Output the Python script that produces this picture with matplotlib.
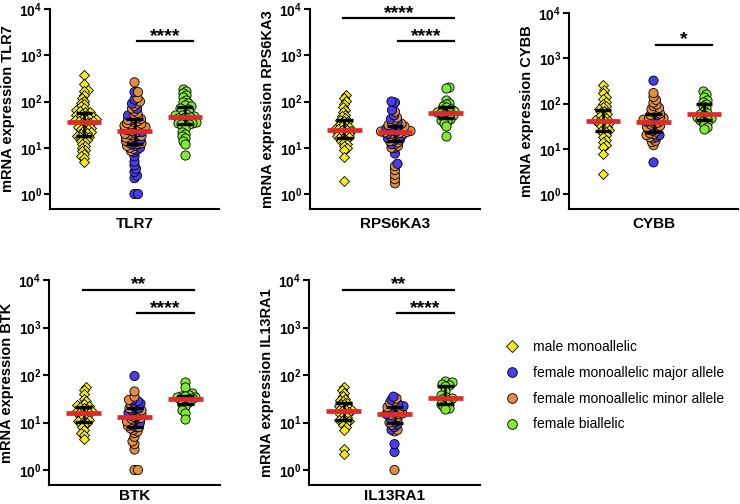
import numpy as np
import matplotlib
matplotlib.use("Agg")
import matplotlib.pyplot as plt
from matplotlib.lines import Line2D
from matplotlib.ticker import FixedLocator, FuncFormatter, NullLocator

plt.rcParams['font.family'] = ['Liberation Sans', 'DejaVu Sans']
plt.rcParams['mathtext.fontset'] = 'custom'
plt.rcParams['mathtext.rm'] = 'Liberation Sans:bold'
plt.rcParams['mathtext.bf'] = 'Liberation Sans:bold'

# ---- data (mRNA expression, log scale) ----
genes = ["TLR7", "RPS6KA3", "CYBB", "BTK", "IL13RA1"]
group_names = ["male monoallelic", "female monoallelic major allele",
               "female monoallelic minor allele", "female biallelic"]

tlr7_male = [380, 240, 175, 165, 140, 120, 105, 95, 88, 80, 72, 66, 62, 60, 58, 55, 52, 50, 48, 46,
             45, 44, 42, 41, 40, 39, 38, 37, 36, 35, 34, 32, 30, 28, 27, 26, 25, 24, 22, 21, 20, 19,
             18, 17.5, 17, 16, 15, 14, 13, 12, 11, 10, 9, 8.5, 7.5, 6.5, 6, 5]
tlr7_major = [160, 110, 90, 70, 50, 40, 30, 22, 18, 15, 13, 12, 11, 10, 9, 8, 6.5, 5, 4.2, 3.5,
              3, 2.5, 2.2, 1.0, 1.0]
tlr7_minor = [260, 160, 120, 100, 90, 80, 70, 62, 56, 52, 48, 45, 44, 42, 40, 38, 36, 34, 33, 32,
              31, 30, 29, 28, 27, 27, 26, 25, 25, 24, 23, 22, 21, 20, 19.5, 19, 18, 17, 16.5, 16,
              15, 14.5, 14, 13, 12.5, 12, 11, 10, 9.5, 8.5]
tlr7_bi = [190, 170, 150, 140, 125, 110, 100, 92, 85, 78, 74, 70, 66, 62, 58, 55, 52, 50, 48, 47,
           46, 44, 42, 40, 38, 36, 35, 34, 32, 31, 33, 25, 22, 20, 18, 16, 14, 12, 7]

rps_male = [135, 120, 105, 90, 75, 65, 58, 52, 48, 44, 40, 38, 36, 34, 32, 30, 29, 28, 27, 26, 25,
            24.5, 24, 23, 22, 21, 20, 19, 18.5, 18, 17, 16.5, 16, 15, 14, 13, 12, 11, 10, 9, 6.3, 1.9]
rps_major = [100, 95, 65, 50, 42, 36, 32, 30, 28, 26, 24, 22, 20, 18, 16, 14, 12, 10, 7.5, 4.5]
rps_minor = [60, 45, 40, 35, 33, 31, 29, 27, 26, 25, 24, 23, 22.5, 22, 21.5, 21, 20.5, 20, 19, 18,
             17, 16, 15, 14, 13, 12, 11, 10, 4.0, 3.3, 2.6, 2.1, 1.7]
rps_bi = [210, 195, 110, 95, 90, 80, 75, 70, 65, 62, 60, 58, 57, 55, 52, 50, 48, 45, 42, 40, 38,
          35, 30, 18]

cybb_male = [250, 200, 170, 140, 125, 110, 100, 90, 82, 75, 70, 65, 60, 56, 52, 49, 46, 44, 42, 41,
             40, 38, 36, 34, 32, 30, 28, 26, 25, 24, 22, 20, 18, 16, 14, 12, 11, 7.5, 2.7]
cybb_major = [320, 55, 40, 30, 25, 20, 18, 5]
cybb_minor = [170, 140, 120, 105, 95, 88, 80, 75, 70, 65, 60, 56, 52, 50, 48, 47, 45, 44, 43, 42,
              40, 38, 36, 34, 32, 30, 28, 26, 24, 22, 21, 20, 18, 17, 15, 14, 12]
cybb_bi = [185, 165, 140, 120, 110, 100, 90, 80, 70, 62, 58, 55, 50, 48, 46, 44, 42, 38, 34, 30, 28]

btk_male = [55, 48, 40, 32, 28, 25, 23, 22, 21, 20, 19, 18, 17.5, 17, 16.5, 16, 15.5, 15, 14, 13,
            12, 11.5, 11, 10.5, 10, 9.5, 9, 8, 7, 6, 5.5, 4.5]
btk_major = [95, 30, 28, 26, 25, 24, 22, 20, 19, 18, 16, 14, 12, 10, 8]
btk_minor = [45, 35, 30, 24, 20, 18, 17, 16, 15, 14, 13, 12.5, 12, 11, 10.5, 10, 9.5, 9, 8.5, 8,
             7.5, 7, 6.5, 6, 5, 4, 3.5, 2.7, 1.0, 1.0]
btk_bi = [72, 55, 42, 38, 37, 36, 35, 34, 33, 32, 31, 30, 28, 26, 24, 22, 18, 16, 12]

il13_male = [55, 48, 42, 36, 32, 30, 28, 26, 25, 24, 22, 21, 20, 19, 18.5, 18, 17.5, 17, 16, 15,
             14, 13, 12, 11.5, 11, 10.5, 10, 9, 8, 7, 2.8, 2.2]
il13_major = [35, 30, 25, 22, 20, 18, 15, 12, 10, 9, 8, 7, 3.5, 2.4]
il13_minor = [32, 28, 26, 24, 22, 21, 20, 19, 18, 17, 16, 15.5, 15, 14.5, 14, 13, 12, 11, 10, 9,
              7, 6.5, 1.0]
il13_bi = [75, 70, 65, 62, 60, 45, 38, 35, 33, 32, 30, 28, 25, 24, 22, 20, 19]

# comparisons: (group a, group b, label)
tlr7_sig = [(1, 2, "****")]
rps_sig = [(1, 2, "****"), (0, 2, "****")]
cybb_sig = [(1, 2, "*")]
btk_sig = [(1, 2, "****"), (0, 2, "**")]
il13_sig = [(1, 2, "****"), (0, 2, "**")]

panels = [
    (tlr7_male, tlr7_major, tlr7_minor, tlr7_bi, tlr7_sig),
    (rps_male, rps_major, rps_minor, rps_bi, rps_sig),
    (cybb_male, cybb_major, cybb_minor, cybb_bi, cybb_sig),
    (btk_male, btk_major, btk_minor, btk_bi, btk_sig),
    (il13_male, il13_major, il13_minor, il13_bi, il13_sig),
]

YELLOW = "#F7EE0F"
BLUE = "#4B3BEF"
ORANGE = "#E08D3F"
GREEN = "#80EA2F"
RED = "#DD2A2A"

W, H = 740, 504
# axes boxes in pixels: left, top, right, bottom
boxes = [(50, 9, 219, 209), (310, 9, 480, 209), (569, 13, 738, 209),
         (49, 280, 220, 485), (309, 280, 480, 485)]


def swarm(ax, xc, values, dist):
    # place points in pixel space as close to the centre as possible
    vals = np.asarray(values, dtype=float)
    ys = ax.transData.transform(np.column_stack([np.full(len(vals), xc), vals]))[:, 1]
    order = np.argsort(ys)
    offs = np.zeros(len(vals))
    placed = []
    for n, i in enumerate(order):
        sgn = 1 if n % 2 else -1
        for k in range(600):
            off = (k + 1) // 2 * 0.5 * (sgn if k % 2 else -sgn)
            if all((off - px) ** 2 + (ys[i] - py) ** 2 >= dist ** 2 for px, py in placed):
                break
        offs[i] = off
        placed.append((off, ys[i]))
    unit = ax.transData.transform((1, 1))[0] - ax.transData.transform((0, 1))[0]
    return xc + offs / unit


def summary(ax, xc, values):
    q1, med, q3 = np.percentile(values, [25, 50, 75])
    ax.plot([xc, xc], [q1, q3], color="k", lw=1.8, zorder=6)
    for q in (q1, q3):
        ax.plot([xc - 0.16, xc + 0.16], [q, q], color="k", lw=2.4, zorder=6, solid_capstyle="butt")
    ax.plot([xc - 0.34, xc + 0.34], [med, med], color=RED, lw=3.4, zorder=7, solid_capstyle="butt")


fig = plt.figure(figsize=(W / 100, H / 100), dpi=100)

for idx, (gene, (male, major, minor, bi, sig), (l, t, r, b)) in enumerate(zip(genes, panels, boxes)):
    ax = fig.add_axes([l / W, 1 - b / H, (r - l) / W, (b - t) / H])
    ax.set_yscale("log")
    ax.set_xlim(-0.68, 2.68)
    ten0 = b - 15
    decade = (ten0 - t) / 4.0
    ax.set_ylim(10 ** (-15 / decade), 1e4)
    for s in ("top", "right"):
        ax.spines[s].set_visible(False)
    for s in ("left", "bottom"):
        ax.spines[s].set_linewidth(1.5)
    ax.set_xticks([])
    ax.yaxis.set_major_locator(FixedLocator([1, 10, 100, 1000, 10000]))
    ax.yaxis.set_minor_locator(NullLocator())
    ax.yaxis.set_major_formatter(FuncFormatter(lambda v, p: r"$\mathbf{10^{%d}}$" % round(np.log10(v))))
    ax.tick_params(axis="y", length=4, width=1.5, labelsize=10, pad=1.5)
    ax.set_ylabel("mRNA expression " + gene, fontsize=10.5, fontweight="bold", labelpad=3)
    ax.set_xlabel(gene, fontsize=11, fontweight="bold", labelpad=6 if idx < 3 else 3)

    # male group
    xs = swarm(ax, 0, male, 3.3)
    ax.scatter(xs, male, marker="D", s=26, facecolor=YELLOW, edgecolor="k", lw=0.6, zorder=3)
    summary(ax, 0, male)

    # female monoallelic, major and minor allele in one swarm
    mid = np.array(list(major) + list(minor), dtype=float)
    cols = np.array([BLUE] * len(major) + [ORANGE] * len(minor))
    xs = swarm(ax, 1, mid, 3.3)
    order = np.argsort(mid)
    ax.scatter(xs[order], mid[order], marker="o", s=44, c=cols[order], edgecolor="k", lw=0.6, zorder=3)
    summary(ax, 1, mid)

    # female biallelic
    xs = swarm(ax, 2, bi, 3.6)
    ax.scatter(xs, bi, marker="o", s=44, facecolor=GREEN, edgecolor="k", lw=0.6, zorder=3)
    summary(ax, 2, bi)

    for a, bgrp, label in sig:
        level = 0 if a == 1 else 1
        yb = 10 ** (3.3 if level == 0 else 3.8)
        x0 = a + (0.05 if a > 0 else -0.02)
        ax.plot([x0, bgrp + 0.17], [yb, yb], color="k", lw=1.6, clip_on=False)
        ax.text((x0 + bgrp + 0.17) / 2, yb * 1.02, label, ha="center", va="baseline",
                fontsize=14, fontweight="bold", clip_on=False)

handles = [
    Line2D([], [], ls="none", marker="D", ms=6, mfc=YELLOW, mec="k", mew=0.6),
    Line2D([], [], ls="none", marker="o", ms=7, mfc=BLUE, mec="k", mew=0.6),
    Line2D([], [], ls="none", marker="o", ms=7, mfc=ORANGE, mec="k", mew=0.6),
    Line2D([], [], ls="none", marker="o", ms=7, mfc=GREEN, mec="k", mew=0.6),
]
fig.legend(handles, group_names, loc="upper left", bbox_to_anchor=(505 / W, 1 - 340 / H),
           frameon=False, fontsize=10, handlelength=1.0, handletextpad=1.0,
           labelspacing=0.85, borderaxespad=0, borderpad=0)

fig.savefig("out.png", dpi=100)
